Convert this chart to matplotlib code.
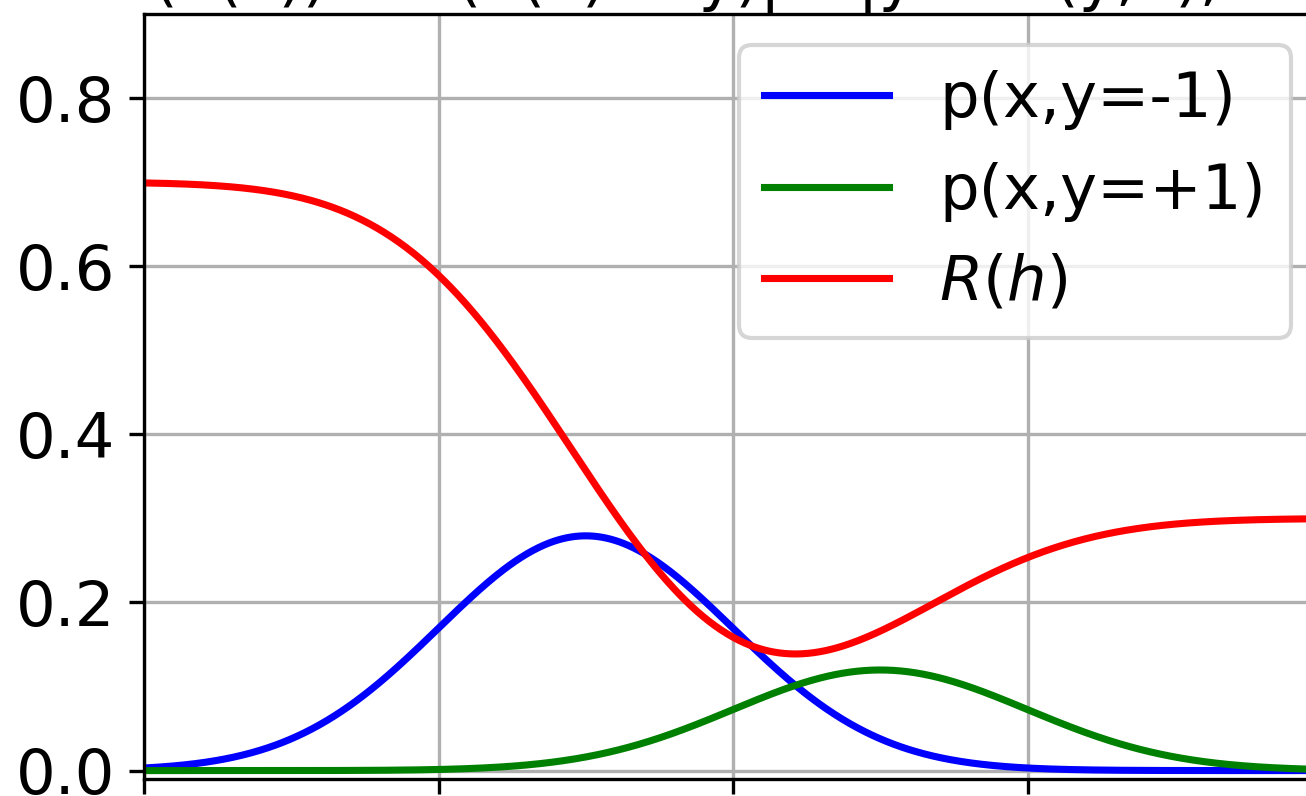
import math
import numpy as np
import matplotlib
matplotlib.use("Agg")
import matplotlib.pyplot as plt

# class-conditional gaussians
labels = ["p(x,y=-1)", "p(x,y=+1)"]
colors = ["blue", "green"]
priors = [0.7, 0.3]
means = [-1.0, 1.0]
sigma = 1.0
x_range = [-4.0, 4.0]
y_lim = [-0.01, 0.9]

def gauss(x, mu, s):
    return np.exp(-0.5 * ((x - mu) / s) ** 2) / (s * math.sqrt(2 * math.pi))

def cdf(x, mu, s):
    return 0.5 * (1 + np.vectorize(math.erf)((x - mu) / (s * math.sqrt(2))))

x = np.linspace(x_range[0], x_range[1], 801)
# risk of the threshold rule "predict +1 if x > h"
risk = priors[0] * (1 - cdf(x, means[0], sigma)) + priors[1] * cdf(x, means[1], sigma)

plt.rcParams["font.size"] = 15
fig = plt.figure(figsize=(1306 / 300, 796 / 300), dpi=300)
# crop of a bigger figure: axes run past the right edge
ax = fig.add_axes([144 / 1306, 17 / 796, (1322 - 144) / 1306, 765 / 796])

for lab, col, p, mu in zip(labels, colors, priors, means):
    ax.plot(x, p * gauss(x, mu, sigma), color=col, lw=1.7, label=lab)
ax.plot(x, risk, color="red", lw=1.7, label="$R(h)$")

ax.set_xlim(x_range)
ax.set_ylim(y_lim)
ax.set_xticks([-4, -2, 0, 2, 4])
ax.set_xticklabels([])
ax.set_yticks([0.0, 0.2, 0.4, 0.6, 0.8])
ax.grid(True)
ax.legend(loc="upper right")

# title sits above the crop, only its descenders show
fig.text(110 / 1306, 1 + 1 / 796, "R(h(x)) = P(h(x) \u2260 y)|  x|y ~ N(y,1), h \u2208 [-4,4]",
         ha="left", va="baseline", fontsize=15)

fig.savefig("out.png", dpi=300)
